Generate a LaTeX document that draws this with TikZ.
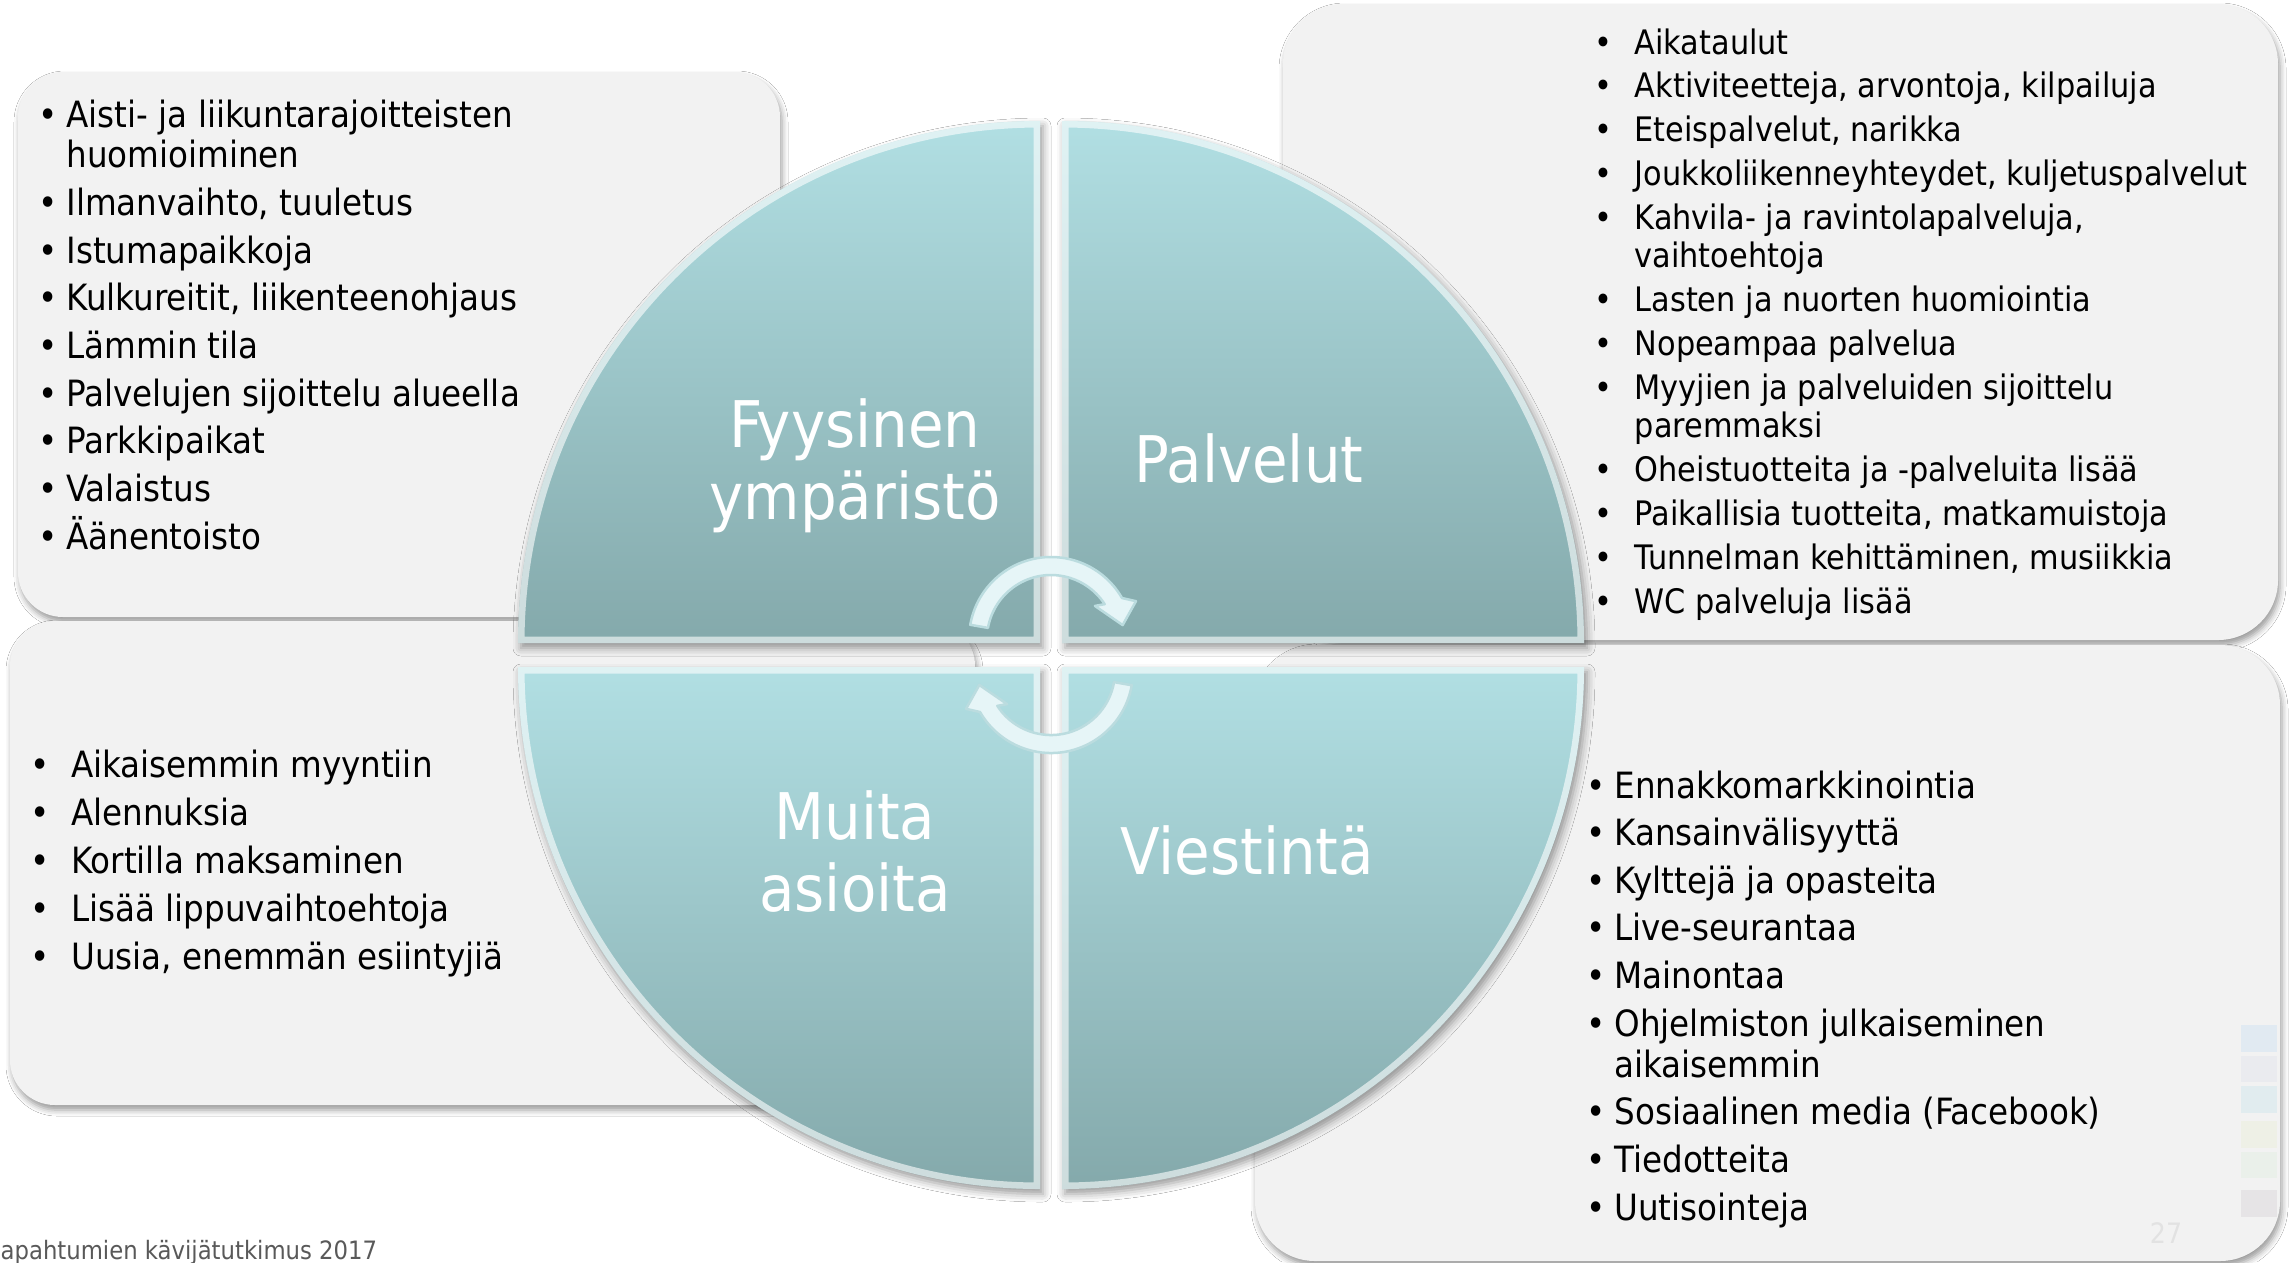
\documentclass[tikz,border=0pt]{standalone}
\usepackage{fontspec}
\setmainfont{DejaVu Sans Condensed}
\usetikzlibrary{calc,shadows.blur}
\definecolor{boxgray}{HTML}{F2F2F2}
\definecolor{qtop}{HTML}{B1DFE3}
\definecolor{qbot}{HTML}{84A9AB}
\definecolor{arrowc}{HTML}{E6F5F7}
\definecolor{arrowedge}{HTML}{BBDCDF}
\definecolor{foot}{HTML}{595959}
\definecolor{pgnum}{HTML}{E2E2E2}
\definecolor{swA}{HTML}{E1EAF2}
\definecolor{swB}{HTML}{EAEBEF}
\definecolor{swC}{HTML}{E1ECEF}
\definecolor{swD}{HTML}{EEF0E6}
\definecolor{swE}{HTML}{EAF0EA}
\definecolor{swF}{HTML}{E6E4E6}
\newcommand\Litem[2]{\smash{\makebox[#1][l]{•}#2}}
\newcommand\Lcont[2]{\smash{\hspace*{#1}#2}}
\begin{document}
\begin{tikzpicture}[x=0.1mm,y=-0.1mm,
  box/.style={fill=boxgray, rounded corners=#1,
    blur shadow={shadow xshift=0.2mm, shadow yshift=-0.5mm, shadow blur radius=0.6mm, shadow opacity=40}},
  quad/.style={top color=qtop, bottom color=qbot,
    blur shadow={shadow xshift=0.3mm, shadow yshift=-0.5mm, shadow blur radius=0.8mm, shadow opacity=40}},
  bevel/.style={draw=white, draw opacity=0.6, line width=1.3mm},
  pTL/.style={insert path={(1040,643) -- (518,643) arc[start angle=180,end angle=270,radius=522] -- cycle}},
  pTR/.style={insert path={(1062,643) -- (1062,121) arc[start angle=270,end angle=360,radius=522] -- cycle}},
  pBL/.style={insert path={(1040,667) -- (1040,1189) arc[start angle=90,end angle=180,radius=522] -- cycle}},
  pBR/.style={insert path={(1062,667) -- (1584,667) arc[start angle=0,end angle=90,radius=522] -- cycle}},
  listtxt/.style={anchor=base west, inner sep=0pt, text=black, align=left},
  qlabel/.style={anchor=base, inner sep=0pt, text=white, font=\fontsize{18.3}{20.5}\selectfont},
  arrowfill/.style={fill=arrowc, draw=arrowedge, line width=0.25mm, line join=round},
  swatch/.style={draw=none}
]
\useasboundingbox (0,0) rectangle (2292,1262);
\fill[white] (0,0) rectangle (2292,1262);

% text boxes
\path[box=4.5mm] (18,72) rectangle (780,617);
\path[box=4.5mm] (10,621) rectangle (975,1105);
\path[box=6mm] (1283,4) rectangle (2278,640);
\path[box=6mm] (1255,645) rectangle (2280,1261);

% colour swatches
\fill[swatch, fill=swA] (2241,1025) rectangle (2277,1052);
\fill[swatch, fill=swB] (2241,1056) rectangle (2277,1082);
\fill[swatch, fill=swC] (2241,1086) rectangle (2277,1113);
\fill[swatch, fill=swD] (2241,1121) rectangle (2277,1148);
\fill[swatch, fill=swE] (2241,1152) rectangle (2277,1178);
\fill[swatch, fill=swF] (2241,1190) rectangle (2277,1217);

% quadrants
\shade[quad, pTL];
\shade[quad, pTR];
\shade[quad, pBL];
\shade[quad, pBR];
\begin{scope}\clip[pTL]; \path[bevel, pTL]; \end{scope}
\begin{scope}\clip[pTR]; \path[bevel, pTR]; \end{scope}
\begin{scope}\clip[pBL]; \path[bevel, pBL]; \end{scope}
\begin{scope}\clip[pBR]; \path[bevel, pBR]; \end{scope}

% cycle arrows
\coordinate (c1) at (1051,639);
\coordinate (c2) at (1051,671);
\path[arrowfill] ($(c1)+(190:82)$) arc[start angle=190,end angle=330,radius=82]
  -- ($(c1)+(336:93)$) -- ($(c1)+(349:73)$) -- ($(c1)+(323:55)$) -- ($(c1)+(327:64)$)
  arc[start angle=327,end angle=190,radius=64] -- cycle;
\path[arrowfill] ($(c2)+(10:82)$) arc[start angle=10,end angle=150,radius=82]
  -- ($(c2)+(156:93)$) -- ($(c2)+(169:73)$) -- ($(c2)+(143:55)$) -- ($(c2)+(147:64)$)
  arc[start angle=147,end angle=10,radius=64] -- cycle;

% quadrant labels
\node[qlabel] (fyys) at (855,447) {\begin{tabular}[t]{@{}c@{}}\smash{Fyysinen}\\\smash{ympäristö}\end{tabular}};
\node[qlabel] (palv) at (1249,482) {Palvelut};
\node[qlabel] (muita) at (855,839) {\begin{tabular}[t]{@{}c@{}}\smash{Muita}\\\smash{asioita}\end{tabular}};
\node[qlabel] (viest) at (1247,874) {Viestintä};

% lists
\node[listtxt, font=\fontsize{10.3}{11.66}\selectfont] (listTL) at (38,127) {\begin{tabular}[t]{@{}l@{}}
\Litem{7.9pt}{Aisti- ja liikuntarajoitteisten}\\
\Lcont{7.9pt}{huomioiminen}\\[1.9pt]
\Litem{7.9pt}{Ilmanvaihto, tuuletus}\\[1.9pt]
\Litem{7.9pt}{Istumapaikkoja}\\[1.9pt]
\Litem{7.9pt}{Kulkureitit, liikenteenohjaus}\\[1.9pt]
\Litem{7.9pt}{Lämmin tila}\\[1.9pt]
\Litem{7.9pt}{Palvelujen sijoittelu alueella}\\[1.9pt]
\Litem{7.9pt}{Parkkipaikat}\\[1.9pt]
\Litem{7.9pt}{Valaistus}\\[1.9pt]
\Litem{7.9pt}{Äänentoisto}
\end{tabular}};

\node[listtxt, font=\fontsize{9.6}{10.8}\selectfont] (listTR) at (1594,54) {\begin{tabular}[t]{@{}l@{}}
\Litem{11.4pt}{Aikataulut}\\[1.7pt]
\Litem{11.4pt}{Aktiviteetteja, arvontoja, kilpailuja}\\[1.7pt]
\Litem{11.4pt}{Eteispalvelut, narikka}\\[1.7pt]
\Litem{11.4pt}{Joukkoliikenneyhteydet, kuljetuspalvelut}\\[1.7pt]
\Litem{11.4pt}{Kahvila- ja ravintolapalveluja,}\\
\Lcont{11.4pt}{vaihtoehtoja}\\[1.7pt]
\Litem{11.4pt}{Lasten ja nuorten huomiointia}\\[1.7pt]
\Litem{11.4pt}{Nopeampaa palvelua}\\[1.7pt]
\Litem{11.4pt}{Myyjien ja palveluiden sijoittelu}\\
\Lcont{11.4pt}{paremmaksi}\\[1.7pt]
\Litem{11.4pt}{Oheistuotteita ja -palveluita lisää}\\[1.7pt]
\Litem{11.4pt}{Paikallisia tuotteita, matkamuistoja}\\[1.7pt]
\Litem{11.4pt}{Tunnelman kehittäminen, musiikkia}\\[1.7pt]
\Litem{11.4pt}{WC palveluja lisää}
\end{tabular}};

\node[listtxt, font=\fontsize{10.3}{13.66}\selectfont] (listBL) at (30,777) {\begin{tabular}[t]{@{}l@{}}
\Litem{11.55pt}{Aikaisemmin myyntiin}\\
\Litem{11.55pt}{Alennuksia}\\
\Litem{11.55pt}{Kortilla maksaminen}\\
\Litem{11.55pt}{Lisää lippuvaihtoehtoja}\\
\Litem{11.55pt}{Uusia, enemmän esiintyjiä}
\end{tabular}};

\node[listtxt, font=\fontsize{10.3}{11.66}\selectfont] (listBR) at (1586,798) {\begin{tabular}[t]{@{}l@{}}
\Litem{7.9pt}{Ennakkomarkkinointia}\\[1.9pt]
\Litem{7.9pt}{Kansainvälisyyttä}\\[1.9pt]
\Litem{7.9pt}{Kylttejä ja opasteita}\\[1.9pt]
\Litem{7.9pt}{Live-seurantaa}\\[1.9pt]
\Litem{7.9pt}{Mainontaa}\\[1.9pt]
\Litem{7.9pt}{Ohjelmiston julkaiseminen}\\
\Lcont{7.9pt}{aikaisemmin}\\[1.9pt]
\Litem{7.9pt}{Sosiaalinen media (Facebook)}\\[1.9pt]
\Litem{7.9pt}{Tiedotteita}\\[1.9pt]
\Litem{7.9pt}{Uutisointeja}
\end{tabular}};

% footer and page number
\node[anchor=base west, inner sep=0pt, text=foot, font=\fontsize{7.2}{9}\selectfont] (footer) at (0,1259) {apahtumien kävijätutkimus 2017};
\node[anchor=base, inner sep=0pt, text=pgnum, font=\fontsize{8}{9}\selectfont] (pageno) at (2166,1243) {27};
\end{tikzpicture}
\end{document}
